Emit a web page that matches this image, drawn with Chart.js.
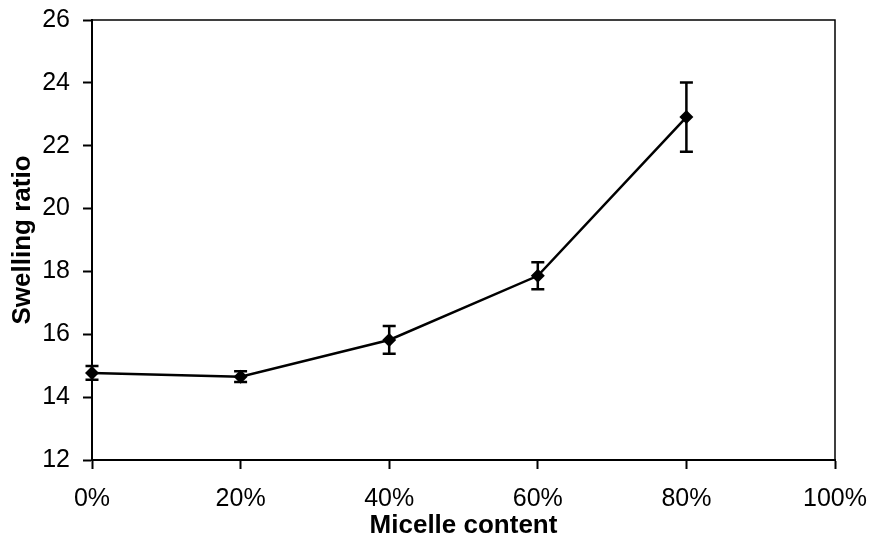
<!DOCTYPE html>
<html>
<head>
<meta charset="utf-8">
<script src="https://cdn.jsdelivr.net/npm/chart.js@4/dist/chart.umd.min.js"></script>
<style>
html,body{margin:0;padding:0;background:#fff;}
#wrap{width:871px;height:544px;position:relative;}
</style>
</head>
<body>
<div id="wrap"><canvas id="c" width="871" height="544"></canvas></div>
<script>
const micelleContent = [0, 20, 40, 60, 80];
const swellingRatio = [14.77, 14.65, 15.82, 17.86, 22.91];
const swellingError = [0.22, 0.17, 0.44, 0.43, 1.1];
const xTicks = [0, 20, 40, 60, 80, 100];
const yTicks = [12, 14, 16, 18, 20, 22, 24, 26];

const points = micelleContent.map((x, i) => ({x: x, y: swellingRatio[i]}));

const errorBars = {
  id: 'errorBars',
  afterDatasetsDraw(chart) {
    const ctx = chart.ctx;
    const xs = chart.scales.x, ys = chart.scales.y;
    ctx.save();
    ctx.strokeStyle = '#000';
    ctx.lineWidth = 2.5;
    micelleContent.forEach((xv, i) => {
      const px = xs.getPixelForValue(xv);
      const top = ys.getPixelForValue(swellingRatio[i] + swellingError[i]);
      const bot = ys.getPixelForValue(swellingRatio[i] - swellingError[i]);
      ctx.beginPath();
      ctx.moveTo(px, top); ctx.lineTo(px, bot);
      ctx.moveTo(px - 6.5, top); ctx.lineTo(px + 6.5, top);
      ctx.moveTo(px - 6.5, bot); ctx.lineTo(px + 6.5, bot);
      ctx.stroke();
    });
    ctx.restore();
  }
};

const frame = {
  id: 'frame',
  afterDraw(chart) {
    const a = chart.chartArea, ctx = chart.ctx;
    ctx.save();
    ctx.strokeStyle = '#000';
    ctx.lineWidth = 1.5;
    ctx.beginPath();
    ctx.moveTo(a.left, a.top); ctx.lineTo(a.right, a.top); ctx.lineTo(a.right, a.bottom);
    ctx.stroke();
    ctx.restore();
  }
};

function noPad(s) {
  s.paddingTop = 0; s.paddingBottom = 0; s.paddingLeft = 0; s.paddingRight = 0;
}

new Chart(document.getElementById('c'), {
  type: 'line',
  data: {
    datasets: [{
      data: points,
      borderColor: '#000',
      backgroundColor: '#000',
      borderWidth: 2.5,
      pointStyle: 'rectRot',
      pointRadius: 7,
      pointBorderWidth: 0,
      pointBackgroundColor: '#000',
      tension: 0,
      clip: false
    }]
  },
  options: {
    responsive: false,
    animation: false,
    devicePixelRatio: 1,
    layout: {padding: {top: 20, right: 36, left: 0, bottom: 0}},
    plugins: {legend: {display: false}, tooltip: {enabled: false}},
    scales: {
      x: {
        type: 'linear',
        min: 0, max: 100,
        afterBuildTicks(s) { s.ticks = xTicks.map(v => ({value: v})); },
        afterFit(s) { s.height = 84; noPad(s); },
        ticks: {
          callback: v => v + '%',
          font: {family: 'Liberation Sans, Arial, sans-serif', size: 25},
          color: '#000',
          padding: 15,
          maxRotation: 0
        },
        grid: {drawOnChartArea: false, drawTicks: true, tickLength: 9, tickColor: '#000', tickWidth: 2},
        border: {display: true, color: '#000', width: 2},
        title: {
          display: true, text: 'Micelle content',
          font: {family: 'Liberation Sans, Arial, sans-serif', size: 26, weight: 'bold'},
          color: '#000',
          padding: {top: 0, bottom: 3}
        }
      },
      y: {
        type: 'linear',
        min: 12, max: 26,
        afterBuildTicks(s) { s.ticks = yTicks.map(v => ({value: v})); },
        afterFit(s) { s.width = 92; noPad(s); },
        ticks: {
          font: {family: 'Liberation Sans, Arial, sans-serif', size: 25},
          color: '#000',
          padding: 13
        },
        grid: {drawOnChartArea: false, drawTicks: true, tickLength: 9, tickColor: '#000', tickWidth: 2},
        border: {display: true, color: '#000', width: 2},
        title: {
          display: true, text: 'Swelling ratio',
          font: {family: 'Liberation Sans, Arial, sans-serif', size: 26, weight: 'bold'},
          color: '#000',
          padding: {top: 7, bottom: 0}
        }
      }
    }
  },
  plugins: [errorBars, frame]
});
</script>
</body>
</html>
